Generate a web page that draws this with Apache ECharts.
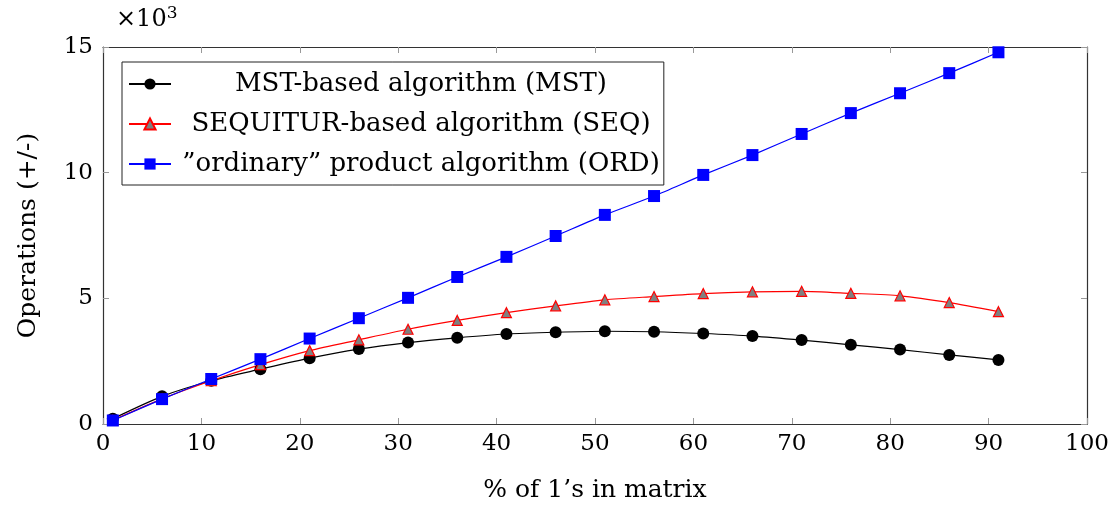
<!DOCTYPE html>
<html>
<head>
<meta charset="utf-8">
<title>Operations</title>
<script src="https://cdn.jsdelivr.net/npm/echarts@6/dist/echarts.min.js"></script>
<style>
  html, body { margin: 0; padding: 0; background: #fff; }
  #chart { width: 1114px; height: 505px; }
</style>
</head>
<body>
<div id="chart"></div>
<script>
// % of 1's in matrix
var percent = [1, 6, 11, 16, 21, 26, 31, 36, 41, 46, 51, 56, 61, 66, 71, 76, 81, 86, 91];
// operations, in thousands
var mst = [0.21, 1.10, 1.72, 2.18, 2.62, 2.98, 3.24, 3.43, 3.58, 3.65, 3.69, 3.67, 3.60, 3.50, 3.34, 3.15, 2.96, 2.75, 2.55];
var seq = [0.15, 1.00, 1.72, 2.36, 2.92, 3.35, 3.77, 4.12, 4.43, 4.70, 4.94, 5.07, 5.19, 5.26, 5.28, 5.20, 5.10, 4.83, 4.47];
var ord = [0.14, 0.99, 1.79, 2.58, 3.40, 4.21, 5.02, 5.85, 6.65, 7.48, 8.32, 9.07, 9.91, 10.70, 11.54, 12.37, 13.16, 13.96, 14.79];
var names = ['MST-based algorithm (MST)', 'SEQUITUR-based algorithm (SEQ)', '\u201dordinary\u201d product algorithm (ORD)'];

var font = 'DejaVu Serif';

function pairs(ys) {
  var out = [];
  for (var i = 0; i < percent.length; i++) out.push([percent[i], ys[i]]);
  return out;
}

var myChart = echarts.init(document.getElementById('chart'));

var tickStyle = { show: true, inside: true, length: 6, lineStyle: { color: '#999' } };
var lineStyle = { show: true, onZero: false, lineStyle: { color: '#333', width: 1.2 } };

var option = {
  animation: false,
  grid: { left: 103, right: 27, top: 47, bottom: 81, show: false, containLabel: false, outerBoundsMode: 'none' },
  legend: {
    orient: 'vertical',
    left: 122, top: 62,
    padding: [9, 4, 8, 6],
    itemGap: 14,
    itemWidth: 42, itemHeight: 14,
    borderColor: '#222', borderWidth: 1,
    backgroundColor: '#fff',
    data: names,
    formatter: function (n) { return '{c|' + n + '}'; },
    textStyle: {
      fontFamily: font, fontSize: 26, color: '#000',
      rich: { c: { width: 490, align: 'center', fontFamily: font, fontSize: 26, color: '#000' } }
    }
  },
  graphic: [{
    type: 'text', left: 116, top: 5,
    style: {
      text: '\u00d710{s|3}', fontFamily: font, fontSize: 24, fill: '#000',
      rich: { s: { fontFamily: font, fontSize: 17, verticalAlign: 'top', padding: [0, 0, 12, 0] } }
    }
  }],
  xAxis: [{
    type: 'value', min: 0, max: 100, interval: 10,
    name: '% of 1\u2019s in matrix', nameLocation: 'middle', nameGap: 54,
    nameTextStyle: { fontFamily: font, fontSize: 25, color: '#000' },
    axisLine: lineStyle, axisTick: tickStyle,
    axisLabel: { fontFamily: font, fontSize: 23, color: '#000', margin: 9 },
    splitLine: { show: false }
  }, {
    type: 'value', min: 0, max: 100, interval: 10, position: 'top',
    axisLine: lineStyle, axisTick: tickStyle, axisLabel: { show: false }, splitLine: { show: false }
  }],
  yAxis: [{
    type: 'value', min: 0, max: 15, interval: 5,
    name: 'Operations (+/-)', nameLocation: 'middle', nameGap: 62, nameRotate: 90,
    nameTextStyle: { fontFamily: font, fontSize: 25, color: '#000' },
    axisLine: lineStyle, axisTick: tickStyle,
    axisLabel: { fontFamily: font, fontSize: 23, color: '#000', margin: 10 },
    splitLine: { show: false }
  }, {
    type: 'value', min: 0, max: 15, interval: 5, position: 'right',
    axisLine: lineStyle, axisTick: tickStyle, axisLabel: { show: false }, splitLine: { show: false }
  }],
  series: [{
    name: names[0], type: 'line', data: pairs(mst), smooth: 0.25,
    symbol: 'circle', symbolSize: 12,
    lineStyle: { color: '#000', width: 1.2 },
    itemStyle: { color: '#000' }
  }, {
    name: names[1], type: 'line', data: pairs(seq), smooth: 0.25,
    symbol: 'triangle', symbolSize: 10,
    lineStyle: { color: '#ff0000', width: 1.2 },
    itemStyle: { color: '#808080', borderColor: '#ff0000', borderWidth: 1.2 }
  }, {
    name: names[2], type: 'line', data: pairs(ord), smooth: 0.25,
    symbol: 'rect', symbolSize: 12,
    lineStyle: { color: '#0000ff', width: 1.2 },
    itemStyle: { color: '#0000ff' }
  }]
};

myChart.setOption(option);
</script>
</body>
</html>
